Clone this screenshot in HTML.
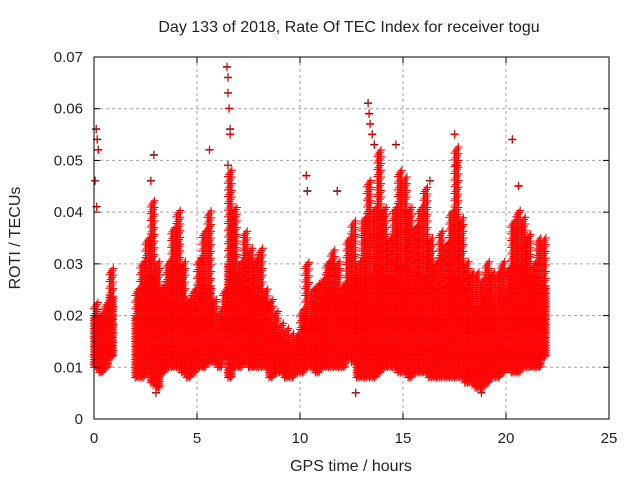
<!DOCTYPE html>
<html><head><meta charset="utf-8"><style>
body{margin:0;background:#fff}
svg text{font-family:"Liberation Sans",sans-serif;font-size:15px;fill:#222}
svg text.big{font-size:16px}
</style></head><body>
<svg id="chart" width="640" height="480" xmlns="http://www.w3.org/2000/svg">
<rect width="640" height="480" fill="#fff"/>
<text class="big" x="349" y="32" text-anchor="middle">Day 133 of 2018, Rate Of TEC Index for receiver togu</text>
<text class="big" transform="translate(20,238) rotate(-90)" text-anchor="middle">ROTI / TECUs</text>
<text class="big" x="351" y="471" text-anchor="middle">GPS time / hours</text>
<g id="grid"></g><g id="marks"></g><g id="axes"></g>
</svg>
<script>
const xTicks=[0,5,10,15,20,25];
const yTicks=[0,0.01,0.02,0.03,0.04,0.05,0.06,0.07];
const yTickLabels=["0","0.01","0.02","0.03","0.04","0.05","0.06","0.07"];
const bandTimes=[0,0.25,0.5,0.75,2.0,2.25,2.5,2.75,3.0,3.25,3.5,3.75,4.0,4.25,4.5,4.75,5.0,5.25,5.5,5.75,6.0,6.25,6.5,6.75,7.0,7.25,7.5,7.75,8.0,8.25,8.5,8.75,9.0,9.25,9.5,9.75,10.0,10.25,10.5,10.75,11.0,11.25,11.5,11.75,12.0,12.25,12.5,12.75,13.0,13.25,13.5,13.75,14.0,14.25,14.5,14.75,15.0,15.25,15.5,15.75,16.0,16.25,16.5,16.75,17.0,17.25,17.5,17.75,18.0,18.25,18.5,18.75,19.0,19.25,19.5,19.75,20.0,20.25,20.5,20.75,21.0,21.25,21.5,21.75];
const bandLow=[0.010,0.009,0.010,0.012,0.008,0.008,0.009,0.007,0.006,0.009,0.010,0.010,0.010,0.009,0.008,0.009,0.010,0.010,0.011,0.011,0.010,0.012,0.008,0.010,0.010,0.011,0.010,0.010,0.010,0.010,0.008,0.009,0.009,0.008,0.008,0.009,0.009,0.010,0.010,0.009,0.010,0.010,0.010,0.010,0.010,0.012,0.011,0.008,0.008,0.008,0.008,0.009,0.010,0.010,0.010,0.009,0.009,0.008,0.009,0.009,0.009,0.008,0.008,0.008,0.008,0.008,0.008,0.008,0.007,0.007,0.006,0.006,0.007,0.008,0.008,0.009,0.010,0.009,0.009,0.010,0.010,0.010,0.010,0.012];
const bandCore=[0.020,0.018,0.020,0.024,0.020,0.024,0.026,0.028,0.024,0.022,0.024,0.028,0.030,0.024,0.018,0.020,0.022,0.026,0.026,0.018,0.017,0.020,0.030,0.028,0.024,0.026,0.024,0.022,0.024,0.020,0.018,0.017,0.016,0.015,0.014,0.014,0.016,0.020,0.020,0.021,0.022,0.024,0.025,0.024,0.021,0.026,0.028,0.024,0.026,0.028,0.028,0.030,0.028,0.026,0.028,0.030,0.030,0.028,0.027,0.028,0.028,0.026,0.024,0.026,0.025,0.026,0.028,0.026,0.024,0.022,0.022,0.022,0.024,0.022,0.022,0.024,0.024,0.028,0.030,0.030,0.028,0.025,0.026,0.026];
const bandHigh=[0.022,0.020,0.022,0.028,0.024,0.030,0.035,0.042,0.030,0.025,0.030,0.036,0.040,0.030,0.022,0.024,0.030,0.036,0.040,0.022,0.020,0.025,0.048,0.040,0.030,0.036,0.032,0.030,0.033,0.025,0.022,0.020,0.018,0.017,0.016,0.016,0.020,0.030,0.025,0.026,0.027,0.030,0.032,0.030,0.025,0.034,0.038,0.030,0.038,0.045,0.040,0.052,0.040,0.035,0.040,0.048,0.046,0.040,0.037,0.040,0.044,0.035,0.030,0.036,0.034,0.040,0.052,0.038,0.030,0.028,0.028,0.027,0.030,0.028,0.028,0.030,0.028,0.038,0.040,0.038,0.035,0.030,0.034,0.035];
const spikeTimes=[0.05,0.1,0.15,0.2,0.12,2.75,2.9,5.6,6.45,6.5,6.5,6.55,6.6,6.6,6.5,10.3,11.8,13.3,13.35,13.4,13.5,13.6,14.65,16.3,17.5,17.6,20.3,20.6,10.35,12.7,18.8,3.0];
const spikeValues=[0.046,0.056,0.054,0.052,0.041,0.046,0.051,0.052,0.068,0.066,0.063,0.060,0.056,0.055,0.049,0.047,0.044,0.061,0.059,0.057,0.055,0.053,0.053,0.046,0.055,0.049,0.054,0.045,0.044,0.005,0.005,0.005];
const X0=94,X1=609,Y0=419,Y1=57;
const xs=v=>X0+(v-0)/25*(X1-X0);
const ys=v=>Y0-(v/0.07)*(Y0-Y1);
const NS="http://www.w3.org/2000/svg";
function mk(tag,attrs,parent){const e=document.createElementNS(NS,tag);for(const k in attrs)e.setAttribute(k,attrs[k]);parent.appendChild(e);return e;}
const grid=document.getElementById('grid'),marks=document.getElementById('marks'),axes=document.getElementById('axes');
xTicks.forEach((t,i)=>{const x=xs(t);
 if(i>0&&i<xTicks.length-1){const g=mk('line',{x1:x,x2:x,y1:Y1,y2:Y0,stroke:'#a0a0a0','stroke-dasharray':'3,3'},grid);}
 mk('line',{x1:x,x2:x,y1:Y0,y2:Y0-6,stroke:'#000'},axes);mk('line',{x1:x,x2:x,y1:Y1,y2:Y1+6,stroke:'#000'},axes);
 const tx=mk('text',{x:x,y:443,'text-anchor':'middle'},axes);tx.textContent=String(t);
 });
yTicks.forEach((t,i)=>{const y=ys(t);
 if(i>0&&i<yTicks.length-1){const g=mk('line',{x1:X0,x2:X1,y1:y,y2:y,stroke:'#a0a0a0','stroke-dasharray':'3,3'},grid);}
 mk('line',{x1:X0,x2:X0+6,y1:y,y2:y,stroke:'#000'},axes);mk('line',{x1:X1,x2:X1-6,y1:y,y2:y,stroke:'#000'},axes);
 const tx=mk('text',{x:83,y:y+5,'text-anchor':'end'},axes);tx.textContent=yTickLabels[i];
 });
const frame=mk('rect',{x:X0,y:Y1,width:X1-X0,height:Y0-Y1,fill:'none',stroke:'#000'},axes);

let d='',dk='';
function plus(t,v){const x=xs(t),y=ys(v);return `M${(x-4).toFixed(1)} ${y.toFixed(1)}h8M${x.toFixed(1)} ${(y-4).toFixed(1)}v8`;}
bandTimes.forEach((t,i)=>{
 for(let k=0;k<4;k++){const tt=t+k*0.0625;
  for(let v=bandLow[i];v<=bandCore[i];v+=0.0005)d+=plus(tt,v+(k%2)*0.00025);
  for(let v=bandCore[i];v<=bandHigh[i];v+=0.0013)d+=plus(tt,v+k*0.0004);}
});
spikeTimes.forEach((t,i)=>{dk+=plus(t+0.01,spikeValues[i]+0.0001);d+=plus(t,spikeValues[i]);});
const pk=mk('path',{d:dk,stroke:'#000','stroke-width':1,fill:'none'},marks);

const p=mk('path',{d:d,stroke:'#ff0000','stroke-width':1.1,fill:'none'},marks);

</script>
</body></html>
